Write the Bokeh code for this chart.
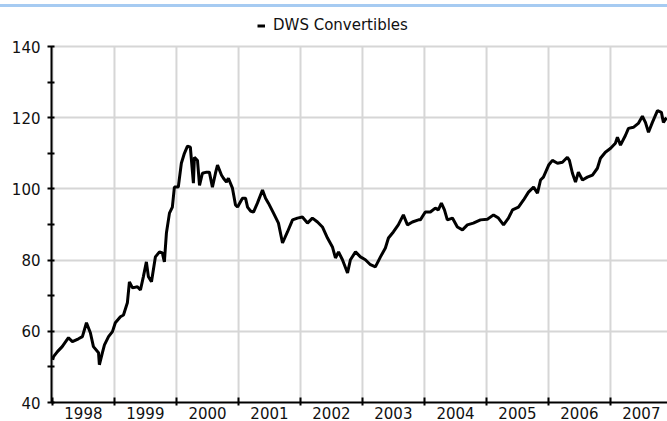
import pandas as pd
from bokeh.plotting import figure
from bokeh.layouts import column
from bokeh.models import (FixedTicker, DatetimeTickFormatter, Legend, LegendItem,
                          Range1d, ColumnDataSource, Div)
from bokeh.embed import file_html
from bokeh.resources import INLINE

# ---------------- data ----------------
dates = [
    "1998-01-02", "1998-01-07", "1998-01-30", "1998-02-27", "1998-04-05", "1998-04-28",
    "1998-06-03", "1998-06-26", "1998-07-20", "1998-08-12", "1998-08-30", "1998-09-29",
    "1998-10-04", "1998-10-22", "1998-11-03", "1998-11-27", "1998-12-20",
    "1999-01-06", "1999-02-05", "1999-02-23", "1999-03-18", "1999-03-30", "1999-04-17",
    "1999-05-16", "1999-06-03", "1999-06-20", "1999-07-08", "1999-07-20", "1999-08-07",
    "1999-08-30", "1999-09-23", "1999-10-10", "1999-10-22", "1999-11-03", "1999-11-21",
    "1999-12-08", "1999-12-20",
    "2000-01-12", "2000-01-30", "2000-02-17", "2000-03-06", "2000-03-23", "2000-04-10",
    "2000-04-16", "2000-05-04", "2000-05-16", "2000-06-02", "2000-06-26", "2000-07-13",
    "2000-07-31", "2000-08-18", "2000-08-30", "2000-09-22", "2000-10-04", "2000-10-22",
    "2000-11-02", "2000-11-26", "2000-12-14", "2000-12-26",
    "2001-01-24", "2001-02-11", "2001-02-23", "2001-03-12", "2001-03-30", "2001-04-22",
    "2001-05-22", "2001-06-09", "2001-06-26", "2001-07-26", "2001-08-24", "2001-09-17",
    "2001-10-16", "2001-11-15", "2001-12-14",
    "2002-01-12", "2002-02-11", "2002-03-12", "2002-04-11", "2002-05-10", "2002-06-09",
    "2002-07-08", "2002-07-26", "2002-08-13", "2002-09-05", "2002-10-05", "2002-10-22",
    "2002-11-21", "2002-12-20",
    "2003-01-18", "2003-02-17", "2003-03-18", "2003-04-17", "2003-05-16", "2003-06-03",
    "2003-07-02", "2003-07-31", "2003-08-30", "2003-09-23", "2003-10-22", "2003-11-27",
    "2003-12-08",
    "2004-01-06", "2004-02-05", "2004-03-05", "2004-03-23", "2004-04-10", "2004-04-28",
    "2004-05-15", "2004-06-14", "2004-07-13", "2004-08-12", "2004-09-10", "2004-10-15",
    "2004-11-26",
    "2005-01-06", "2005-02-11", "2005-03-12", "2005-04-11", "2005-05-10", "2005-06-03",
    "2005-07-08", "2005-08-07", "2005-09-05", "2005-10-05", "2005-10-28", "2005-11-15",
    "2005-12-02",
    "2006-01-02", "2006-01-24", "2006-02-23", "2006-03-24", "2006-04-22", "2006-05-04",
    "2006-05-22", "2006-06-09", "2006-06-26", "2006-07-20", "2006-08-18", "2006-09-17",
    "2006-10-16", "2006-11-03", "2006-12-02",
    "2007-01-02", "2007-01-30", "2007-02-11", "2007-03-01", "2007-03-30", "2007-04-17",
    "2007-05-16", "2007-06-14", "2007-07-08", "2007-07-26", "2007-08-13", "2007-09-05",
    "2007-10-05", "2007-10-28", "2007-11-09", "2007-11-27",
]

dws_convertibles = [
    52.0, 52.9, 54.3, 55.7, 58.2, 57.1, 57.9, 58.5, 62.4, 59.6, 55.7, 54.0, 50.6, 54.0,
    56.2, 58.5, 59.9,
    62.4, 64.1, 64.6, 68.0, 73.9, 72.2, 72.5, 71.6, 75.3, 79.5, 75.3, 73.9, 80.9, 82.3,
    82.0, 79.5, 87.6, 93.2, 94.9, 100.5,
    100.5, 107.2, 110.0, 112.0, 111.7, 101.6, 108.9, 108.0, 101.0, 104.4, 104.7, 104.7,
    100.5, 104.4, 106.7, 103.9, 103.0, 101.9, 103.0, 100.2, 95.5, 94.9,
    97.4, 97.4, 94.9, 93.8, 93.5, 96.0, 99.7, 97.4, 96.0, 93.2, 90.4, 84.8, 87.9, 91.3, 91.8,
    92.1, 90.4, 91.8, 90.7, 89.3, 86.2, 83.7, 80.6, 82.3, 80.1, 76.4, 80.1, 82.3, 80.9,
    80.1, 78.7, 78.1, 80.9, 83.4, 86.2, 87.9, 89.9, 92.7, 89.9, 90.7, 91.3, 91.3,
    93.5, 93.5, 94.6, 94.1, 96.0, 94.1, 91.3, 91.8, 89.3, 88.5, 89.9, 90.4, 91.3,
    91.5, 92.7, 91.8, 89.9, 91.8, 94.1, 94.9, 96.9, 99.1, 100.5, 98.8, 102.5, 103.3,
    106.7, 108.0, 107.2, 107.5, 108.9, 108.0, 104.4, 101.9, 104.7, 102.5, 103.3, 103.9,
    105.8, 108.6, 110.3,
    111.4, 112.8, 114.5, 112.3, 115.0, 117.0, 117.3, 118.4, 120.4, 118.7, 115.9, 118.7,
    122.0, 121.5, 118.7, 120.0,
]

series_name = "DWS Convertibles"
year_labels = ["1998", "1999", "2000", "2001", "2002", "2003", "2004", "2005", "2006", "2007"]
y_major = [40, 60, 80, 100, 120, 140]
y_minor = [50, 70, 90, 110, 130]
y_min, y_max = 40, 140

# ---------------- figure ----------------
FONT = "DejaVu Sans"
TXT = "#111111"
GRID = "#d6d6d6"

x = pd.to_datetime(dates)
src = ColumnDataSource(data=dict(x=x, y=dws_convertibles))

def ms(ts):
    return pd.Timestamp(ts).value / 1e6

x_start = ms("1997-12-26")
x_end = ms("2007-12-03")

# the frame reaches up into the legend strip (36 px above the 140 line)
px_per_unit = 356 / (y_max - y_min)
y_top = y_max + 36 / px_per_unit

p = figure(x_axis_type="datetime", output_backend="svg", toolbar_location=None,
           width=667, height=414,
           min_border_left=51, min_border_right=0, min_border_top=3, min_border_bottom=19,
           x_range=Range1d(x_start, x_end), y_range=Range1d(y_min, y_top))
p.outline_line_color = None
p.background_fill_color = "white"
p.border_fill_color = "white"

mid_year = [ms(f"{y}-07-02") for y in year_labels]
year_starts = [ms(f"{int(y)}-01-01") for y in year_labels] + [ms(f"{int(year_labels[-1]) + 1}-01-01")]

# vertical grid lines at the year boundaries, only within the value range
p.xgrid.visible = False
p.segment(x0=year_starts, y0=[y_min] * len(year_starts), x1=year_starts,
          y1=[y_max] * len(year_starts), line_color=GRID, line_width=2)

r = p.line("x", "y", source=src, line_color="black", line_width=3)

# x axis: labels centred in each year, ticks at year boundaries
xax = p.xaxis[0]
xax.ticker = FixedTicker(ticks=mid_year, minor_ticks=year_starts)
xax.formatter = DatetimeTickFormatter(years="%Y", months="%Y", days="%Y", hours="%Y",
                                      minutes="%Y", seconds="%Y", milliseconds="%Y",
                                      microseconds="%Y", minsec="%Y", hourmin="%Y")
xax.major_tick_in = 0
xax.major_tick_out = 0
xax.minor_tick_in = 5
xax.minor_tick_out = 3
xax.minor_tick_line_width = 2
xax.minor_tick_line_color = "black"
xax.axis_line_width = 2
xax.axis_line_color = "black"
xax.major_label_standoff = 1
xax.major_label_text_font = FONT
xax.major_label_text_font_size = "15px"
xax.major_label_text_color = TXT

yax = p.yaxis[0]
yax.bounds = (y_min, y_max)
yax.ticker = FixedTicker(ticks=y_major, minor_ticks=y_minor)
yax.major_tick_in = 3
yax.major_tick_out = 4
yax.minor_tick_in = 3
yax.minor_tick_out = 4
yax.major_tick_line_width = 2
yax.minor_tick_line_width = 2
yax.major_tick_line_color = "black"
yax.minor_tick_line_color = "black"
yax.axis_line_width = 2
yax.axis_line_color = "black"
yax.major_label_standoff = 7
yax.major_label_text_font = FONT
yax.major_label_text_font_size = "15px"
yax.major_label_text_color = TXT

p.ygrid.ticker = FixedTicker(ticks=y_major)
p.ygrid.grid_line_color = GRID
p.ygrid.grid_line_width = 2

legend = Legend(items=[LegendItem(label=series_name, renderers=[r])],
                location=(206, 368), orientation="horizontal",
                glyph_width=8, glyph_height=17, label_height=17, label_standoff=8,
                padding=0, margin=0, spacing=0,
                border_line_color=None, background_fill_alpha=0,
                label_text_font=FONT, label_text_font_size="15px",
                label_text_color=TXT)
p.add_layout(legend)

# thin light-blue rule across the very top of the picture
top_rule = Div(text="", width=667, height=7, margin=0,
               styles={"box-sizing": "border-box", "border-bottom": "3px solid #a6cbf2",
                       "background": "white"})

layout = column(top_rule, p, spacing=0)

open("out.html", "w").write(file_html(layout, INLINE))
